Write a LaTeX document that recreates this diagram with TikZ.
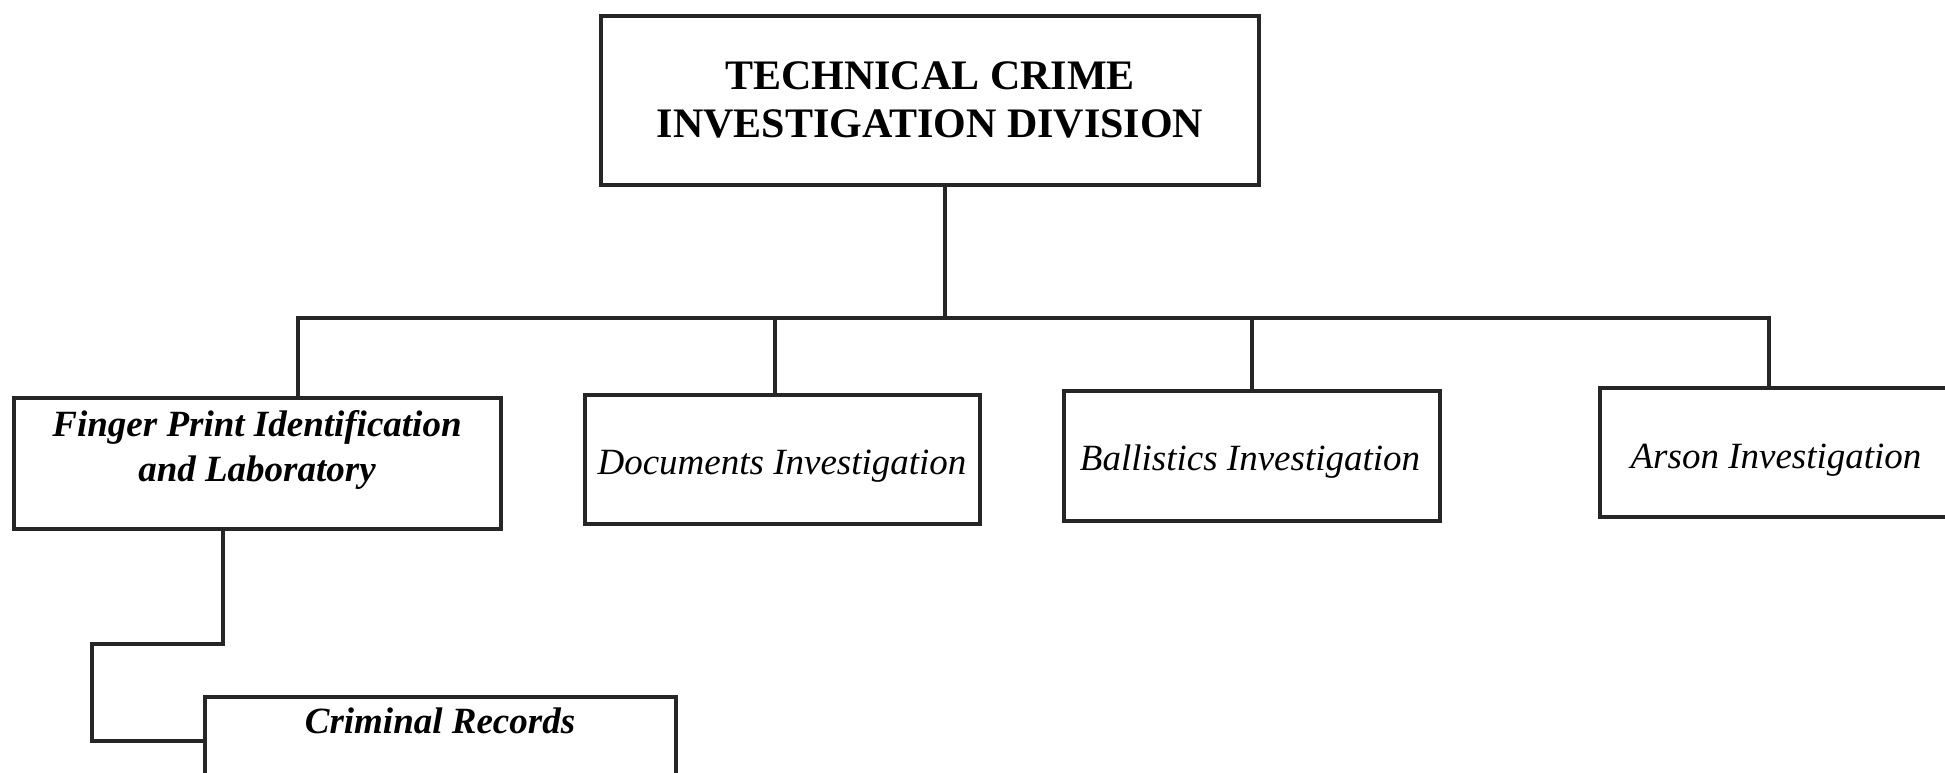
\documentclass[tikz,border=0pt]{standalone}
\usepackage{fontspec}
\setmainfont{Liberation Serif}
\begin{document}
\begin{tikzpicture}[x=1pt,y=-1pt,
  box/.style={draw=black!85, line width=3.6pt, fill=white, inner sep=0pt, anchor=north west},
  wire/.style={draw=black!85, line width=3.8pt},
  headtext/.style={font=\bfseries\fontsize{42}{48}\selectfont, align=center, inner sep=0pt},
  unittext/.style={font=\itshape\fontsize{37}{45}\selectfont, inner sep=0pt, anchor=base},
  boldunit/.style={font=\bfseries\itshape\fontsize{37}{45}\selectfont, align=center, inner sep=0pt}]
\useasboundingbox (0,0) rectangle (1945,773);
\clip (0,0) rectangle (1945,773);

% boxes
\node[box, minimum width=658, minimum height=169] (top) at (599,14) {};
\node[box, minimum width=487, minimum height=131] (fp) at (12,396) {};
\node[box, minimum width=395, minimum height=129] (doc) at (583,393) {};
\node[box, minimum width=376, minimum height=130] (bal) at (1062,389) {};
\node[box, minimum width=356, minimum height=129] (ars) at (1598,386) {};
\node[box, minimum width=471, minimum height=130] (crim) at (203,695) {};

% bus coordinates
\coordinate (bus) at (945,318);
\coordinate (busL) at (298,318);
\coordinate (busR) at (1769,318);
\coordinate (bend1) at (223,644);
\coordinate (bend2) at (92,644);
\coordinate (bend3) at (92,741);

% connectors
\draw[wire] (top.south -| bus) -- (bus);
\draw[wire, line cap=rect] (busL) -- (busR);
\draw[wire] (busL) -- (busL |- fp.north);
\draw[wire] (775,318) coordinate (dtap) -- (dtap |- doc.north);
\draw[wire] (1252,318) coordinate (btap) -- (btap |- bal.north);
\draw[wire] (busR) -- (busR |- ars.north);
\draw[wire, line join=miter] (bend1 |- fp.south) -- (bend1) -- (bend2) -- (bend3) -- (bend3 -| crim.west);

% labels
\node[headtext] (toplabel) at (930,100) {TECHNICAL CRIME\\INVESTIGATION DIVISION};
\node[boldunit] (fplabel) at (257,450) {Finger Print Identification\\and Laboratory};
\node[unittext] (doclabel) at (782,474) {Documents Investigation};
\node[unittext] (ballabel) at (1250,470) {Ballistics Investigation};
\node[unittext] (arslabel) at (1776,468) {Arson Investigation};
\node[unittext, font=\bfseries\itshape\fontsize{37}{45}\selectfont] (crimlabel) at (440,733) {Criminal Records};
\end{tikzpicture}
\end{document}
